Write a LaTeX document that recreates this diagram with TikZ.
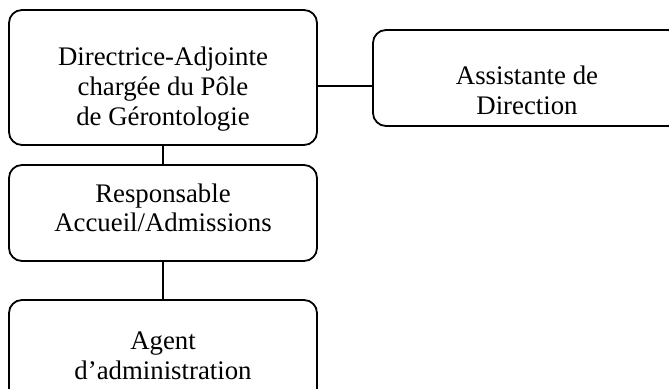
\documentclass[tikz,border=0pt]{standalone}
\usepackage{fontspec}
\setmainfont{Liberation Serif}
\begin{document}
\begin{tikzpicture}[x=0.5pt,y=-0.5pt,
  box/.style={draw, line width=0.9pt, rounded corners=6.5pt, inner sep=0pt, minimum width=154pt},
  lbl/.style={align=center, font=\fontsize{13.4pt}{14.8pt}\selectfont, inner sep=0pt},
  link/.style={line width=0.9pt}]
\clip (0,0) rectangle (669,389);
\useasboundingbox (0,0) rectangle (669,389);
\node[box, minimum height=67.5pt] (b1) at (163,77.5) {};
\node[box, minimum height=48pt] (b2) at (527,78) {};
\node[box, minimum height=48pt] (b3) at (163,213) {};
\node[box, minimum height=60pt] (b4) at (163,360) {};
\node[lbl] (t1) at (163,89) {Directrice-Adjointe\\chargée du Pôle\\de Gérontologie};
\node[lbl] (t2) at (527,90.5) {Assistante de\\Direction};
\node[lbl] (t3) at (163,208) {Responsable\\Accueil/Admissions};
\node[lbl] (t4) at (163,356) {Agent\\d’administration};
\coordinate (h) at (0,86);
\draw[link] (b1.east |- h) -- (b2.west |- h);
\draw[link] (b1.south) -- (b3.north);
\draw[link] (b3.south) -- (b4.north);
\end{tikzpicture}
\end{document}
